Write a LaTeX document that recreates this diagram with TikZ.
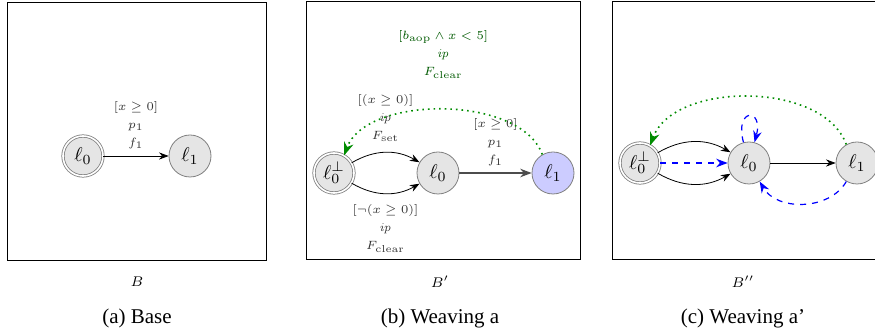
\documentclass[tikz,border=0pt]{standalone}
\usepackage{amsmath,amssymb}
\usepackage[no-math]{fontspec}
\setmainfont{Liberation Serif}
\usetikzlibrary{arrows.meta}

\begin{document}
\begin{tikzpicture}[x=0.5pt, y=0.5pt, >=Stealth,
  loc/.style={circle, draw=gray, fill=gray!20, minimum size=21pt, inner sep=0pt},
  initloc/.style={loc, double, double distance=0.8pt, minimum size=20pt},
  guard/.style={font=\fontsize{6.5}{9}\selectfont, text=black!80, align=center},
  aop/.style={green!55!black, dotted, thick},
  weave/.style={blue, dashed, semithick},
  panel/.style={draw, line width=0.5pt},
  subcap/.style={font=\fontsize{10.5}{12}\selectfont}]
\useasboundingbox (0,0) rectangle (875,332);
\clip (0,0) rectangle (875,332);
\draw[panel] (7,71) rectangle (266,329);
\draw[panel] (306,72) rectangle (580,330);
\draw[panel] (612,72) rectangle (890,330);

% (a) base
\node[initloc] (a0) at (83,176) {$\ell_0$};
\node[loc] (a1) at (190,176) {$\ell_1$};
\draw[->] (a0) -- node[guard, above] {$[x \geq 0]$\\$p_1$\\$f_1$} (a1);
\node[font=\scriptsize] (nameA) at (137,50) {$B$};
\node[subcap] (capA) at (137,14) {(a) Base};

% (b) weaving a
\node[initloc] (b0i) at (334,159) {$\ell_0^\bot$};
\node[loc] (b0) at (438,159) {$\ell_0$};
\node[loc, fill=blue!20] (b1) at (553,159) {$\ell_1$};
\draw[->] (b0i) to[bend left=30] node[guard, above=2pt] {$[(x \geq 0)]$\\$\mathit{ip}$\\$F_{\mathrm{set}}$} (b0);
\draw[->] (b0i) to[bend right=30] node[guard, below=2pt] {$[\neg(x \geq 0)]$\\$\mathit{ip}$\\$F_{\mathrm{clear}}$} (b0);
\draw[->, semithick, black!70] (b0) -- node[guard, above] {$[x \geq 0]$\\$p_1$\\$f_1$} (b1);
\draw[->, aop] (b1.120) to[out=110, in=70, distance=32pt]
  node[guard, above=12pt, text=green!35!black] {$[b_{\mathrm{aop}} \wedge x < 5]$\\$\mathit{ip}$\\$F_{\mathrm{clear}}$} (b0i.60);
\node[font=\scriptsize] (nameB) at (440,50) {$B'$};
\node[subcap] (capB) at (440,14) {(b) Weaving a};

% (c) weaving a'
\node[initloc] (c0i) at (640,169) {$\ell_0^\bot$};
\node[loc] (c0) at (749,169) {$\ell_0$};
\node[loc] (c1) at (857,169) {$\ell_1$};
\draw[->] (c0i) to[bend left=30] (c0);
\draw[->] (c0i) to[bend right=30] (c0);
\draw[->] (c0) -- (c1);
\draw[->, weave] (c0i) -- (c0);
\draw[->, weave] (c0) to[out=105, in=75, distance=18pt] (c0);
\draw[->, weave] (c1) to[out=240, in=300, distance=17pt] (c0);
\draw[->, aop] (c1.120) to[out=110, in=70, distance=34pt] (c0i.60);
\node[font=\scriptsize] (nameC) at (743,50) {$B''$};
\node[subcap] (capC) at (743,14) {(c) Weaving a'};
\end{tikzpicture}
\end{document}
